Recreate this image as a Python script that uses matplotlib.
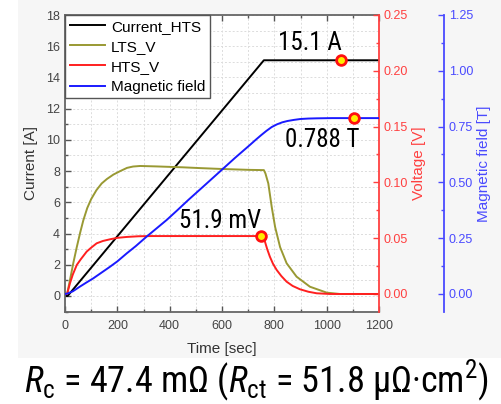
import matplotlib
matplotlib.use("Agg")
import matplotlib.pyplot as plt
from matplotlib import font_manager
from matplotlib.ticker import MultipleLocator, FormatStrFormatter
from matplotlib.patches import Rectangle


def pick_font(names):
    for n in names:
        try:
            font_manager.findfont(n, fallback_to_default=False)
            return n
        except Exception:
            continue
    return "DejaVu Sans"


SANS = pick_font(["Liberation Sans", "Arial"])
NARROW = pick_font(["Roboto Condensed", "Archivo Narrow", "PT Sans Narrow",
                    "Liberation Sans"])

plt.rcParams["font.family"] = [SANS, "DejaVu Sans"]
plt.rcParams["mathtext.fontset"] = "custom"
plt.rcParams["mathtext.rm"] = NARROW
plt.rcParams["mathtext.it"] = NARROW + ":italic"
plt.rcParams["mathtext.bf"] = NARROW + ":bold"

# ---- measured traces ----
t_current = [0, 10, 760, 1200]
current_hts = [0.0, 0.0, 15.1, 15.1]

t_lts = [0, 8, 19, 32, 45, 58, 70, 85, 100, 120, 140, 160, 185, 210, 237, 260,
         287, 350, 450, 516, 600, 707, 760, 766, 777, 790, 803, 822, 847, 885,
         936, 1000, 1050, 1200]
lts_v = [0.0, 0.0, 0.0125, 0.028, 0.042, 0.055, 0.066, 0.077, 0.085, 0.093,
         0.099, 0.103, 0.107, 0.110, 0.1130, 0.1142, 0.1147, 0.1143, 0.1135,
         0.1128, 0.1120, 0.1112, 0.1110, 0.108, 0.099, 0.078, 0.060, 0.042,
         0.0275, 0.0155, 0.0065, 0.0012, 0.0, 0.0]

t_hts = [0, 8, 19, 30, 45, 60, 83, 100, 121, 145, 172, 200, 236, 280, 330,
         755, 764, 773, 783, 795, 809, 827, 847, 870, 898, 930, 962, 1013, 1200]
hts_v = [0.0, 0.0, 0.0096, 0.0175, 0.026, 0.031, 0.038, 0.0415, 0.0454,
         0.0475, 0.049, 0.0503, 0.0511, 0.0517, 0.0519, 0.0519, 0.047, 0.040,
         0.0334, 0.027, 0.0215, 0.016, 0.011, 0.0072, 0.0042, 0.002, 0.0006,
         0.0, 0.0]

t_field = [0, 10, 30, 57, 80, 108, 140, 172, 200, 236, 270, 312, 350, 389,
           430, 471, 530, 599, 650, 707, 730, 750, 770, 790, 810, 830, 850,
           875, 900, 930, 962, 1020, 1200]
field_t = [0.0, 0.002, 0.012, 0.033, 0.050, 0.070, 0.096, 0.122, 0.146,
           0.182, 0.214, 0.257, 0.294, 0.332, 0.376, 0.421, 0.483, 0.556,
           0.610, 0.668, 0.692, 0.712, 0.731, 0.748, 0.760, 0.769, 0.775,
           0.780, 0.784, 0.786, 0.787, 0.788, 0.788]

# highlighted values
i_peak_t, i_peak = 1055, 15.1
v_peak_t, v_peak = 750, 0.0519
b_peak_t, b_peak = 1104, 0.788

C_OLIVE = "#999933"
C_RED = "#ff1f1f"
C_BLUE = "#1a1aff"
C_RED_AX = "#ff4040"
C_BLUE_AX = "#4a4aff"
C_GRAY = "#555555"

fig = plt.figure(figsize=(5.01, 4.04), dpi=100, facecolor="white")
fig.patches.append(Rectangle((18 / 501, 1 - 358 / 404), 1 - 18 / 501, 358 / 404,
                             transform=fig.transFigure, facecolor="#f6f6f6",
                             edgecolor="none", zorder=-10))

ax = fig.add_axes([65 / 501, 1 - 311.6 / 404, 314 / 501, 296.6 / 404])
ax.set_facecolor("white")
ax2 = ax.twinx()
ax3 = ax.twinx()
ax3.spines["right"].set_position(("axes", 1.207))

lw = 1.4
l1, = ax.plot(t_current, current_hts, color="black", lw=lw, label="Current_HTS")
l2, = ax2.plot(t_lts, lts_v, color=C_OLIVE, lw=lw, label="LTS_V")
l3, = ax2.plot(t_hts, hts_v, color=C_RED, lw=lw, label="HTS_V")
l4, = ax3.plot(t_field, field_t, color=C_BLUE, lw=lw, label="Magnetic field")

mk = dict(marker="o", markersize=7, markerfacecolor="#ffee00",
          markeredgecolor="#ff1010", markeredgewidth=2, linestyle="none", zorder=5)
ax.plot([i_peak_t], [i_peak], **mk)
ax2.plot([v_peak_t], [v_peak], **mk)
ax3.plot([b_peak_t], [b_peak], **mk)

# limits
ax.set_xlim(0, 1200)
ax.set_ylim(-1, 18)
ax2.set_ylim(-0.0158, 0.25)
ax3.set_ylim(-0.079, 1.25)

# grid
ax.xaxis.set_major_locator(MultipleLocator(200))
ax.xaxis.set_minor_locator(MultipleLocator(100))
ax.yaxis.set_major_locator(MultipleLocator(2))
ax.yaxis.set_minor_locator(MultipleLocator(1))
ax.grid(which="both", color="#dcdcdc", linestyle=(0, (2, 2)), linewidth=0.7)
ax.set_axisbelow(True)

tick_kw = dict(direction="in", labelsize=9)
ax.tick_params(which="both", top=True, right=False, color=C_GRAY,
               labelcolor="#444444", **tick_kw)
ax.tick_params(which="major", length=4, width=1)
ax.tick_params(which="minor", length=2.5, width=1)
ax.tick_params(axis="x", pad=6)
for s in ("left", "bottom", "top"):
    ax.spines[s].set_color("#666666")
    ax.spines[s].set_linewidth(1.3)
ax.spines["right"].set_visible(False)

ax2.yaxis.set_major_locator(MultipleLocator(0.05))
ax2.yaxis.set_minor_locator(MultipleLocator(0.025))
ax2.yaxis.set_major_formatter(FormatStrFormatter("%.2f"))
ax2.tick_params(which="both", colors=C_RED_AX, labelcolor=C_RED_AX, **tick_kw)
ax2.tick_params(which="major", length=4, width=1)
ax2.tick_params(which="minor", length=2.5, width=1)
ax2.spines["right"].set_color(C_RED_AX)
ax2.spines["right"].set_linewidth(1.3)
for s in ("left", "top", "bottom"):
    ax2.spines[s].set_visible(False)

ax3.yaxis.set_major_locator(MultipleLocator(0.25))
ax3.yaxis.set_minor_locator(MultipleLocator(0.125))
ax3.yaxis.set_major_formatter(FormatStrFormatter("%.2f"))
ax3.tick_params(which="both", colors=C_BLUE_AX, labelcolor=C_BLUE_AX, **tick_kw)
ax3.tick_params(which="major", length=4, width=1)
ax3.tick_params(which="minor", length=2.5, width=1)
ax3.spines["right"].set_color(C_BLUE_AX)
ax3.spines["right"].set_linewidth(1.3)
for s in ("left", "top", "bottom"):
    ax3.spines[s].set_visible(False)

# axis labels
ax.set_xlabel("Time [sec]", fontsize=11, color="#333333", labelpad=7)
ax.set_ylabel("Current [A]", fontsize=11, color="#333333", labelpad=6)
ax2.set_ylabel("Voltage [V]", fontsize=11, color=C_RED_AX, labelpad=3)
ax3.set_ylabel("Magnetic field [T]", fontsize=11, color=C_BLUE_AX, labelpad=3)

# value annotations
ann_kw = dict(fontsize=18, family=[NARROW, "DejaVu Sans"], ha="center",
              va="center", color="black")
ax.text(936, 16.2, "15.1 A", **ann_kw)
ax.text(982, 10.0, "0.788 T", **ann_kw)
ax.text(592, 4.8, "51.9 mV", **ann_kw)

# legend
leg = ax3.legend(handles=[l1, l2, l3, l4], loc="upper left",
                 bbox_to_anchor=(0, 1), borderaxespad=0, fontsize=11,
                 frameon=True, fancybox=False, handlelength=2.3,
                 handletextpad=0.4, labelspacing=0.4, borderpad=0.3)
leg.get_frame().set_edgecolor("#555555")
leg.get_frame().set_linewidth(1.0)
leg.get_frame().set_facecolor("white")
leg.get_frame().set_alpha(1)

fig.text(0.511, 1 - 392 / 404,
         r"$\mathit{R}_{\mathrm{c}}$ = 47.4 mΩ ($\mathit{R}_{\mathrm{ct}}$ = 51.8 μΩ·cm$^{2}$)",
         fontsize=26, family=[NARROW, "DejaVu Sans"], ha="center",
         va="baseline", color="black")

fig.savefig("out.png", dpi=100, facecolor=fig.get_facecolor())
